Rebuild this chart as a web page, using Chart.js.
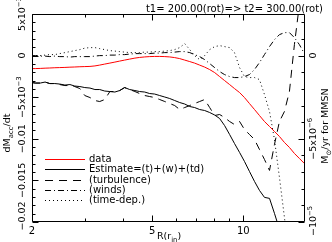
<!DOCTYPE html>
<html>
<head>
<meta charset="utf-8">
<script src="https://cdn.jsdelivr.net/npm/chart.js@4.4.0/dist/chart.umd.min.js"></script>
<style>
  html, body { margin: 0; padding: 0; background: #fff; }
  canvas { display: block; }
</style>
</head>
<body>
<canvas id="chart" width="332" height="242"></canvas>
<script>
// R (r_in) sample positions, shared by all curves
const radius = [2.00, 2.05, 2.13, 2.21, 2.29, 2.38, 2.47, 2.57, 2.67, 2.77,
  2.88, 2.99, 3.11, 3.23, 3.35, 3.48, 3.62, 3.76, 3.90, 4.05,
  4.21, 4.38, 4.54, 4.72, 4.90, 5.09, 5.29, 5.50, 5.71, 5.93,
  6.16, 6.40, 6.65, 6.90, 7.17, 7.45, 7.74, 8.04, 8.35, 8.67,
  9.01, 9.35, 9.72, 10.09, 10.48, 10.89, 11.31, 11.75, 12.21, 12.68,
  13.17, 13.68, 14.21, 14.76, 15.33, 15.92];

const dataVals = [-0.00156, -0.00156, -0.00154, -0.00151, -0.00149, -0.00146, -0.00144, -0.00142, -0.00139, -0.00137,
  -0.00134, -0.00132, -0.00130, -0.00124, -0.00114, -0.00102, -0.00090, -0.00078, -0.00066, -0.00054,
  -0.00042, -0.00030, -0.00022, -0.00016, -0.00012, -0.00010, -0.00010, -0.00012, -0.00016, -0.00024,
  -0.00036, -0.00054, -0.00072, -0.00090, -0.00114, -0.00138, -0.00168, -0.00204, -0.00252, -0.00300,
  -0.00348, -0.00396, -0.00444, -0.00504, -0.00576, -0.00648, -0.00720, -0.00792, -0.00852, -0.00912,
  -0.00972, -0.01044, -0.01104, -0.01176, -0.01236, -0.01296];

const estimate = [-0.00324, -0.00330, -0.00330, -0.00318, -0.00336, -0.00336, -0.00342, -0.00354, -0.00348, -0.00366,
  -0.00372, -0.00384, -0.00390, -0.00408, -0.00408, -0.00426, -0.00432, -0.00438, -0.00420, -0.00384,
  -0.00408, -0.00420, -0.00432, -0.00438, -0.00456, -0.00462, -0.00480, -0.00498, -0.00516, -0.00540,
  -0.00564, -0.00582, -0.00612, -0.00624, -0.00648, -0.00660, -0.00684, -0.00714, -0.00756, -0.00840,
  -0.00948, -0.01056, -0.01164, -0.01272, -0.01392, -0.01512, -0.01620, -0.01704, -0.01716, -0.01896,
  -0.02088, null, null, null, null, null];

const turbulence = [-0.00324, -0.00330, -0.00330, -0.00318, -0.00336, -0.00336, -0.00348, -0.00360, -0.00360, -0.00372,
  -0.00396, -0.00480, -0.00504, -0.00540, -0.00552, -0.00528, -0.00432, -0.00432, -0.00420, -0.00384,
  -0.00408, -0.00432, -0.00456, -0.00480, -0.00492, -0.00504, -0.00528, -0.00552, -0.00576, -0.00600,
  -0.00648, -0.00624, -0.00600, -0.00576, -0.00552, -0.00528, -0.00624, -0.00720, -0.00708, -0.00744,
  -0.00792, -0.00828, -0.00792, -0.00888, -0.00948, -0.01008, -0.01128, -0.01248, -0.01380, -0.01068,
  -0.00792, -0.00672, -0.00432, 0.00132, 0.00612, null];

const winds = [0, 0, -0.00006, -0.00006, -0.00012, -0.00006, -0.00012, -0.00012, -0.00018, -0.00012,
  -0.00012, -0.00012, -0.00012, -0.00006, 0, 0, 0.00006, 0.00006, 0.00012, 0.00012,
  0.00018, 0.00024, 0.00024, 0.00024, 0.00024, 0.00030, 0.00030, 0.00036, 0.00036, 0.00042,
  0.00048, 0.00048, 0.00036, 0.00012, -0.00012, -0.00048, -0.00096, -0.00144, -0.00192, -0.00228,
  -0.00252, -0.00264, -0.00264, -0.00252, -0.00228, -0.00168, -0.00084, 0.00012, 0.00108, 0.00192,
  0.00252, 0.00276, 0.00276, 0.00216, 0.00132, 0.00024];

const timeDep = [0, 0, 0, 0.00006, 0.00012, 0.00012, 0.00024, 0.00036, 0.00048, 0.00060,
  0.00072, 0.00090, 0.00096, 0.00096, 0.00084, 0.00072, 0.00060, 0.00054, 0.00048, 0.00042,
  0.00036, 0.00036, 0.00036, 0.00042, 0.00042, 0.00048, 0.00048, 0.00054, 0.00060, 0.00072,
  0.00096, 0.00144, 0.00072, 0, -0.00048, 0, 0.00072, 0.00108, 0.00120, 0.00108,
  0.00096, 0.00036, -0.00144, -0.00252, -0.00264, -0.00264, -0.00288, -0.00468, -0.00672, -0.01008,
  -0.01464, -0.01944, -0.02472, null, null, null];

// axes
const xMajor = [2, 5, 10];
const xMinor = [3, 4, 6, 7, 8, 9];
const xLabels = ['2', '5', '10'];
const yMajor = [0.005, 0, -0.005, -0.01, -0.015, -0.02];
const yLabels = [[['5x10', 0], ['\u22123', 1]], [['0', 0]], [['\u22125x10', 0], ['\u22123', 1]],
  [['\u22120.01', 0]], [['\u22120.015', 0]], [['\u22120.02', 0]]];
const y2Major = [0, -5e-6, -1e-5];
const y2Labels = [[['0', 0]], [['\u22125x10', 0], ['\u22126', 1]], [['\u221210', 0], ['\u22125', 1]]];

const FONT = '"DejaVu Sans", sans-serif';

function rich(ctx, parts, x, y, rot, size, align) {
  ctx.save();
  ctx.translate(x, y);
  ctx.rotate(rot);
  let w = 0;
  const m = parts.map(([t, k]) => {
    const s = k ? size * 0.72 : size;
    ctx.font = s + 'px ' + FONT;
    const pw = ctx.measureText(t).width;
    w += pw;
    return { t, k, s, pw };
  });
  let cx = align === 'left' ? 0 : -w / 2;
  ctx.textBaseline = 'middle';
  ctx.textAlign = 'left';
  m.forEach(p => {
    ctx.font = p.s + 'px ' + FONT;
    const dy = p.k === 1 ? -size * 0.4 : p.k === 2 ? size * 0.3 : 0;
    ctx.fillText(p.t, cx, dy);
    cx += p.pw;
  });
  ctx.restore();
}

function line(ctx, x1, y1, x2, y2) {
  ctx.beginPath();
  ctx.moveTo(x1, y1);
  ctx.lineTo(x2, y2);
  ctx.stroke();
}

const legendItems = [
  { text: 'data', color: '#ff0000', dash: [] },
  { text: 'Estimate=(t)+(w)+(td)', color: '#000', dash: [] },
  { text: '(turbulence)', color: '#000', dash: [8, 6] },
  { text: '(winds)', color: '#000', dash: [6, 3, 1, 3] },
  { text: '(time-dep.)', color: '#000', dash: [1, 3] }
];

const decor = {
  id: 'decor',
  afterDraw(chart) {
    const ctx = chart.ctx;
    const { left, right, top, bottom } = chart.chartArea;
    const xs = chart.scales.x, ys = chart.scales.y, y2 = chart.scales.y2;
    const L = Math.round(left) + 0.5, R = Math.round(right) - 0.5;
    const T = Math.round(top) + 0.5, B = Math.round(bottom) - 0.5;
    ctx.save();
    ctx.strokeStyle = '#000';
    ctx.lineWidth = 1;
    ctx.setLineDash([]);
    line(ctx, L, T, R, T);
    line(ctx, L, B, R, B);
    line(ctx, L, T, L, B);
    line(ctx, R, T, R, B);

    // x ticks (bottom and top)
    xMajor.concat(xMinor).forEach(v => {
      const len = xMajor.includes(v) ? 6 : 3;
      const px = Math.round(xs.getPixelForValue(v)) + 0.5;
      line(ctx, px, B, px, B - len);
      line(ctx, px, T, px, T + len);
    });
    // left y ticks
    for (let i = -20; i <= 5; i++) {
      const v = i / 1000;
      const len = i % 5 === 0 ? 6 : 3;
      const py = Math.round(ys.getPixelForValue(v)) + 0.5;
      line(ctx, L, py, L + len, py);
    }
    // right y ticks
    for (let i = -10; i <= 2; i++) {
      const v = i * 1e-6;
      const len = i % 5 === 0 ? 6 : 3;
      const py = Math.round(y2.getPixelForValue(v)) + 0.5;
      line(ctx, R, py, R - len, py);
    }

    ctx.fillStyle = '#000';
    // x labels
    xMajor.forEach((v, i) => {
      rich(ctx, [[xLabels[i], 0]], xs.getPixelForValue(v), bottom + 9, 0, 10);
    });
    rich(ctx, [['R(r', 0], ['in', 2], [')', 0]], 157, bottom + 15, 0, 9.5, 'left');

    // left labels
    yMajor.forEach((v, i) => {
      let py = ys.getPixelForValue(v);
      if (i === yMajor.length - 1) py -= 6;
      rich(ctx, yLabels[i], 23, py, -Math.PI / 2, 9.5);
    });
    rich(ctx, [['dM', 0], ['acc', 2], ['/dt', 0]], 8, 133, -Math.PI / 2, 9.5);

    // right labels
    y2Major.forEach((v, i) => {
      let py = y2.getPixelForValue(v);
      if (i === y2Major.length - 1) py -= 1;
      rich(ctx, y2Labels[i], 314, py, -Math.PI / 2, 9.5);
    });
    rich(ctx, [['M', 0], ['\u2299', 2], ['/yr for MMSN', 0]], 326, 126, -Math.PI / 2, 9.5);

    // title line
    ctx.font = '10px ' + FONT;
    ctx.textAlign = 'right';
    ctx.textBaseline = 'alphabetic';
    ctx.fillText('t1= 200.00(rot)=> t2= 300.00(rot)', 323, 12);

    // legend
    legendItems.forEach((it, i) => {
      const ly = Math.round(159 + i * 10.3) + 0.5;
      ctx.strokeStyle = it.color;
      ctx.setLineDash(it.dash);
      line(ctx, 45, ly, 85, ly);
      ctx.setLineDash([]);
      ctx.fillStyle = '#000';
      ctx.font = '10px ' + FONT;
      ctx.textAlign = 'left';
      ctx.textBaseline = 'middle';
      ctx.fillText(it.text, 89, ly);
    });
    ctx.restore();
  }
};

const pts = vals => radius.map((r, i) => ({ x: r, y: vals[i] }));

new Chart(document.getElementById('chart'), {
  type: 'line',
  data: {
    datasets: [
      { label: 'data', data: pts(dataVals), borderColor: '#ff0000' },
      { label: 'Estimate=(t)+(w)+(td)', data: pts(estimate), borderColor: '#000' },
      { label: '(turbulence)', data: pts(turbulence), borderColor: '#000', borderDash: [8, 6] },
      { label: '(winds)', data: pts(winds), borderColor: '#000', borderDash: [6, 3, 1, 3] },
      { label: '(time-dep.)', data: pts(timeDep), borderColor: '#000', borderDash: [1, 3] }
    ]
  },
  options: {
    responsive: false,
    animation: false,
    devicePixelRatio: 1,
    layout: { padding: { left: 32, right: 27, top: 14, bottom: 20 } },
    elements: {
      point: { radius: 0 },
      line: { borderWidth: 1, tension: 0, fill: false }
    },
    scales: {
      x: { type: 'logarithmic', min: 2, max: 16, display: false },
      y: { type: 'linear', min: -0.02, max: 0.005, display: false },
      y2: { type: 'linear', min: -1e-5, max: 2.5e-6, display: false }
    },
    plugins: {
      legend: { display: false },
      tooltip: { enabled: false }
    }
  },
  plugins: [decor]
});
</script>
</body>
</html>
